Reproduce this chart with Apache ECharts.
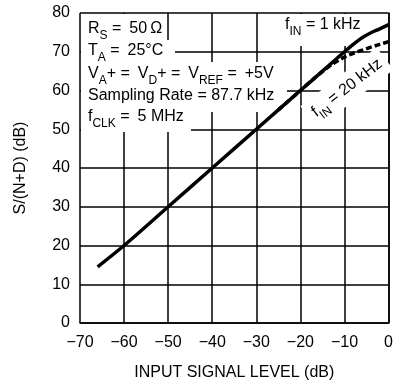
<!DOCTYPE html>
<html><head><meta charset="utf-8">
<script src="https://cdn.jsdelivr.net/npm/echarts@6/dist/echarts.min.js"></script>
<style>html,body{margin:0;padding:0;background:#fff}#c{width:396px;height:391px}</style>
</head><body><div id="c"></div>
<script>
// Data
const inputLevel1k = [-66, -60, -50, -40, -30, -20, -15, -12, -10, -8, -6, -4, -2, 0];
const snd1k        = [14.5, 20, 30, 40, 50, 60, 65, 68, 70, 71.9, 73.6, 74.9, 75.9, 77];
const inputLevel20k = [-25, -20, -17, -15, -13, -11, -10, -8, -6, -4, -2, 0];
const snd20k        = [55, 60, 63, 64.9, 66.6, 68, 68.6, 69.6, 70.4, 71.2, 71.9, 72.6];
const xTicks = [-70, -60, -50, -40, -30, -20, -10, 0];
const yTicks = [0, 10, 20, 30, 40, 50, 60, 70, 80];

const FONT = 'Liberation Sans';
const chart = echarts.init(document.getElementById('c'), null, {renderer: 'canvas'});
const rich = {
  n: {fontSize: 16, fontFamily: FONT, lineHeight: 26, color: '#000'},
  s: {fontSize: 12, fontFamily: FONT, lineHeight: 12, verticalAlign: 'bottom', color: '#000'}
};
function txt(x, y, t, extra) {
  return Object.assign({type: 'text', z: 3, x: x, y: y, style: {text: t, rich: rich, font: '16px ' + FONT, fill: '#000', textVerticalAlign: 'middle'}}, extra || {});
}
function box(x, y, w, h) {
  return {type: 'rect', z: 1, shape: {x: x, y: y, width: w, height: h}, style: {fill: '#fff'}};
}
const EQ = ' =\u2002';
const option = {
  animation: false,
  backgroundColor: '#fff',
  grid: {left: 80, right: 6, top: 13, bottom: 68},
  xAxis: {
    type: 'value', min: -70, max: 0, interval: 10,
    name: 'INPUT SIGNAL LEVEL (dB)', nameLocation: 'middle', nameGap: 42,
    nameTextStyle: {fontSize: 16, fontFamily: FONT, color: '#000'},
    axisLine: {show: true, lineStyle: {color: '#000', width: 1.5}},
    axisTick: {show: false},
    axisLabel: {fontSize: 16, fontFamily: FONT, color: '#000', margin: 12,
      formatter: v => xTicks.includes(v) ? (v < 0 ? '\u2212' + Math.abs(v) : String(v)) : ''},
    splitLine: {show: true, lineStyle: {color: '#000', width: 1.5}}
  },
  yAxis: {
    type: 'value', min: 0, max: 80, interval: 10,
    name: 'S/(N+D) (dB)', nameLocation: 'middle', nameGap: 51,
    nameTextStyle: {fontSize: 16, fontFamily: FONT, color: '#000'},
    axisLine: {show: true, lineStyle: {color: '#000', width: 1.5}},
    axisTick: {show: false},
    axisLabel: {fontSize: 16, fontFamily: FONT, color: '#000', margin: 10,
      formatter: v => yTicks.includes(v) ? String(v) : ''},
    splitLine: {show: true, lineStyle: {color: '#000', width: 1.5}}
  },
  series: [
    {type: 'line', z: 4, data: inputLevel20k.map((x, i) => [x, snd20k[i]]), showSymbol: false, smooth: 0.3,
     lineStyle: {color: '#000', width: 3.5, type: [6, 3]}},
    {type: 'line', z: 5, data: inputLevel1k.map((x, i) => [x, snd1k[i]]), showSymbol: false, smooth: 0.3,
     lineStyle: {color: '#000', width: 3.5}}
  ],
  graphic: [
    box(81, 14, 80, 26),
    box(81, 40, 94, 22),
    box(81, 62, 202, 24),
    box(81, 86, 206, 26),
    box(81, 110, 110, 22),
    box(278, 14, 86, 32),
    {type: 'rect', z: 1, x: 347, y: 88, rotation: 37.6 * Math.PI / 180,
     shape: {x: -48, y: -14, width: 96, height: 28}, style: {fill: '#fff'}},
    txt(88, 29, '{n|R}{s|S}{n|' + EQ + '50\u2009\u03A9}'),
    txt(88, 51, '{n|T}{s|A}{n|' + EQ + '25\u00B0C}'),
    txt(88, 74, '{n|V}{s|A}{n|+' + EQ + 'V}{s|D}{n|+' + EQ + 'V}{s|REF}{n|' + EQ + '+5V}'),
    txt(88, 96, '{n|Sampling Rate = 87.7 kHz}'),
    txt(88, 117, '{n|f}{s|CLK}{n|' + EQ + '5 MHz}'),
    txt(285, 25, '{n|f}{s|IN}{n| = 1 kHz}'),
    txt(347, 88, '', {rotation: 37.6 * Math.PI / 180, style: {text: '{n|f}{s|IN}{n| = 20 kHz}', rich: rich, font: '16px ' + FONT, fill: '#000', textVerticalAlign: 'middle', textAlign: 'center'}})
  ]
};
chart.setOption(option);
</script></body></html>
